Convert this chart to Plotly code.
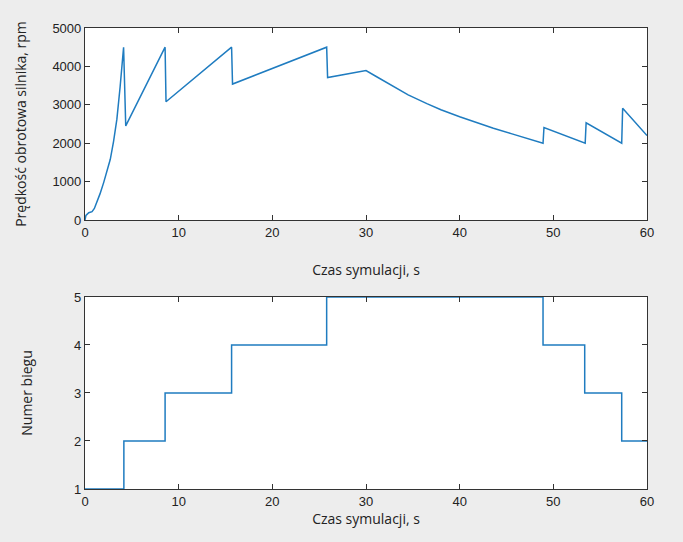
import plotly.graph_objects as go
from plotly.subplots import make_subplots

# Engine speed (rpm) vs simulation time (s)
t_speed = [0, 0.1, 0.4, 0.75, 1.0, 1.25, 1.6, 2.0, 2.35, 2.7, 3.05, 3.4, 3.75, 4.05, 4.12,
           4.35, 8.55, 8.65, 15.65, 15.75, 25.8, 25.9, 30.0,
           31.0, 32.0, 33.0, 34.5, 36.5, 38.0, 40.0, 42.0, 43.6, 45.5, 47.2, 48.9,
           49.0, 53.4, 53.5, 57.3, 57.4, 60.0]
v_speed = [0, 120, 190, 216, 300, 440, 680, 980, 1260, 1580, 2050, 2620, 3470, 4430, 4500,
           2450, 4500, 3080, 4500, 3540, 4500, 3710, 3890,
           3750, 3605, 3465, 3260, 3030, 2870, 2690, 2520, 2390, 2250, 2130, 2000,
           2410, 2000, 2530, 2000, 2910, 2200]

# Gear number vs simulation time (s)
t_gear = [0, 4.15, 8.55, 15.65, 25.8, 48.9, 53.35, 57.3, 60.0]
gear = [1, 2, 3, 4, 5, 4, 3, 2, 2]

x_ticks = [0, 10, 20, 30, 40, 50, 60]
speed_ticks = [0, 1000, 2000, 3000, 4000, 5000]
gear_ticks = [1, 2, 3, 4, 5]

LINE = "#1f7cc0"
AX = "#333333"

fig = make_subplots(rows=2, cols=1, vertical_spacing=0.167)

fig.add_trace(go.Scatter(x=t_speed, y=v_speed, mode="lines",
                         line=dict(color=LINE, width=1.5), showlegend=False),
              row=1, col=1)
fig.add_trace(go.Scatter(x=t_gear, y=gear, mode="lines", line_shape="hv",
                         line=dict(color=LINE, width=1.5), showlegend=False),
              row=2, col=1)

axis_common = dict(showline=True, linecolor=AX, linewidth=1.2, mirror="ticks",
                   ticks="inside", ticklen=5, tickcolor=AX, showgrid=False,
                   zeroline=False,
                   tickfont=dict(family="Liberation Sans, Arial", size=13, color="#222"))
title_font = dict(family="Open Sans", size=14, color="#222")

fig.update_xaxes(range=[0, 60], tickvals=x_ticks, **axis_common)
fig.update_xaxes(title=dict(text="Czas symulacji, s", font=title_font, standoff=26), row=1, col=1)
fig.update_xaxes(title=dict(text="Czas symulacji, s", font=title_font, standoff=4), row=2, col=1)
fig.update_yaxes(range=[0, 5000], tickvals=speed_ticks,
                 title=dict(text="Prędkość obrotowa silnika, rpm", font=title_font, standoff=22),
                 row=1, col=1, **axis_common)
fig.update_yaxes(range=[1, 5], tickvals=gear_ticks,
                 title=dict(text="Numer biegu", font=title_font, standoff=38),
                 row=2, col=1, **axis_common)

fig.update_layout(
    width=683, height=542,
    margin=dict(l=85, r=36, t=28, b=53, autoexpand=False),
    paper_bgcolor="#ededed",
    plot_bgcolor="#ffffff",
)
fig.update_layout(yaxis=dict(domain=[0.5835, 1.0]), yaxis2=dict(domain=[0.0, 0.4165]))

fig.write_html("out.html", config={"displayModeBar": False},
               post_script="document.body.style.margin='0';document.body.style.background='#ededed';")
